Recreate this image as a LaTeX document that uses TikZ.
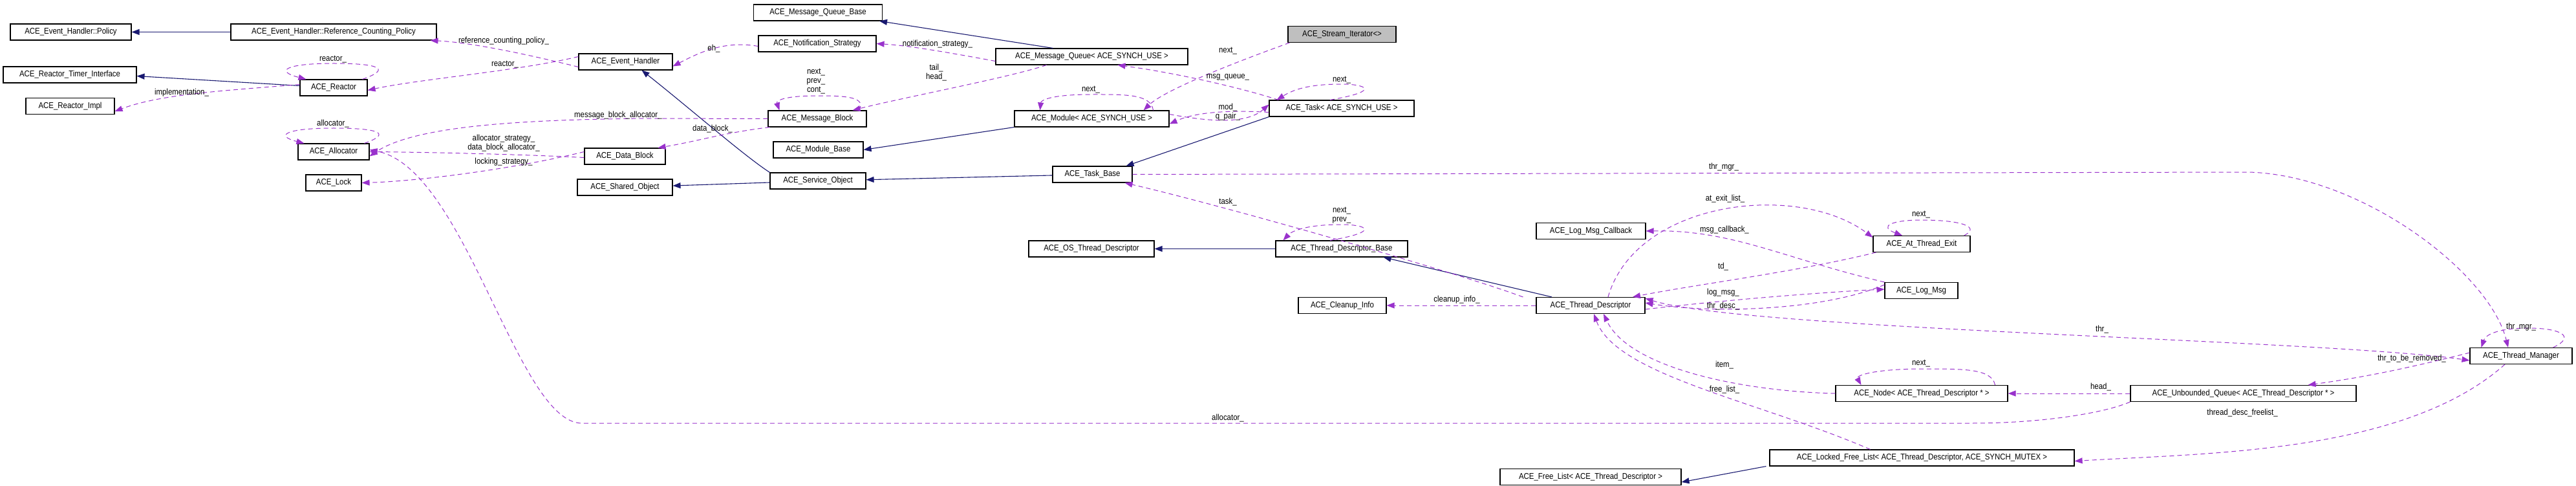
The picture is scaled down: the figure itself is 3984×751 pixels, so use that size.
\documentclass[tikz,border=0pt]{standalone}
\usepackage{fontspec}
\setmainfont{Liberation Sans}[FakeStretch=0.88]
\usetikzlibrary{arrows.meta}
\definecolor{use}{RGB}{153,50,204}
\definecolor{inh}{RGB}{25,25,112}
\begin{document}
\begin{tikzpicture}[x=1pt,y=-1pt,
  box/.style={draw,line width=1.1pt,minimum height=25pt,inner sep=1pt,font=\fontsize{13}{14}\selectfont},
  lab/.style={font=\fontsize{13}{14}\selectfont,inner sep=0pt,align=center},
  uses/.style={draw=use,line width=1pt,dash pattern=on 7pt off 5pt,-{Triangle[length=12pt,width=9pt]}},
  both/.style={draw=use,line width=1pt,dash pattern=on 7pt off 5pt,{Triangle[length=12pt,width=9pt]}-{Triangle[length=12pt,width=9pt]}},
  isa/.style={draw=inh,line width=1.1pt,-{Triangle[length=12pt,width=9pt]}}]
\useasboundingbox (0,0) rectangle (3984,751);
% nodes
\node[box,minimum width=187pt] (pol) at (109.5,49.5) {ACE\_Event\_Handler::Policy};
\node[box,minimum width=318pt] (rcp) at (516,49.5) {ACE\_Event\_Handler::Reference\_Counting\_Policy};
\node[box,minimum width=206pt] (rti) at (108,115.5) {ACE\_Reactor\_Timer\_Interface};
\node[box,minimum width=104pt] (rea) at (516,135.5) {ACE\_Reactor};
\node[box,minimum width=137pt] (rim) at (108.5,164) {ACE\_Reactor\_Impl};
\node[box,minimum width=110pt] (all) at (516,234.5) {ACE\_Allocator};
\node[box,minimum width=86pt] (lck) at (516,282.5) {ACE\_Lock};
\node[box,minimum width=145pt] (eh) at (967.5,95.5) {ACE\_Event\_Handler};
\node[box,minimum width=125pt] (db) at (966.5,241.5) {ACE\_Data\_Block};
\node[box,minimum width=147pt] (so) at (966.5,289.5) {ACE\_Shared\_Object};
\node[box,minimum width=199pt] (mqb) at (1265,19.5) {ACE\_Message\_Queue\_Base};
\node[box,minimum width=182pt] (ns) at (1264,67.5) {ACE\_Notification\_Strategy};
\node[box,minimum width=152pt] (mb) at (1264,183.5) {ACE\_Message\_Block};
\node[box,minimum width=139pt] (modb) at (1265.5,231.5) {ACE\_Module\_Base};
\node[box,minimum width=148pt] (svc) at (1265,279.5) {ACE\_Service\_Object};
\node[box,minimum width=297pt] (mq) at (1688.5,87.5) {ACE\_Message\_Queue< ACE\_SYNCH\_USE >};
\node[box,minimum width=239pt] (mod) at (1688.5,183.5) {ACE\_Module< ACE\_SYNCH\_USE >};
\node[box,minimum width=123pt] (tb) at (1689.5,269.5) {ACE\_Task\_Base};
\node[box,minimum width=194pt] (ostd) at (1688,384.5) {ACE\_OS\_Thread\_Descriptor};
\node[box,minimum width=167pt,fill=black!25] (si) at (2075.5,53) {ACE\_Stream\_Iterator<>};
\node[box,minimum width=224pt] (task) at (2075,167.5) {ACE\_Task< ACE\_SYNCH\_USE >};
\node[box,minimum width=204pt] (tdb) at (2075,384.5) {ACE\_Thread\_Descriptor\_Base};
\node[box,minimum width=136pt] (ci) at (2076,472) {ACE\_Cleanup\_Info};
\node[box,minimum width=280pt] (fl) at (2460,737) {ACE\_Free\_List< ACE\_Thread\_Descriptor >};
\node[box,minimum width=169pt] (lmc) at (2460.5,357) {ACE\_Log\_Msg\_Callback};
\node[box,minimum width=168pt] (td) at (2460,472) {ACE\_Thread\_Descriptor};
\node[box,minimum width=150pt] (ate) at (2972,377) {ACE\_At\_Thread\_Exit};
\node[box,minimum width=113pt] (lm) at (2971.5,449) {ACE\_Log\_Msg};
\node[box,minimum width=266pt] (nd) at (2972,608) {ACE\_Node< ACE\_Thread\_Descriptor * >};
\node[box,minimum width=471pt] (lfl) at (2972.5,707.5) {ACE\_Locked\_Free\_List< ACE\_Thread\_Descriptor, ACE\_SYNCH\_MUTEX >};
\node[box,minimum width=349pt] (uq) at (3469.5,608) {ACE\_Unbounded\_Queue< ACE\_Thread\_Descriptor * >};
\node[box,minimum width=158pt] (tm) at (3899,550) {ACE\_Thread\_Manager};
% inheritance
\draw[isa] (rcp) -- (pol);
\draw[isa] ([yshift=3pt]rea.west) -- ([yshift=-2pt]rti.east);
\draw[isa] (svc.north west) .. controls (1150,240) and (1070,170) .. ([xshift=25pt]eh.south);
\draw[isa] (svc) -- (so);
\draw[isa] ([xshift=-60pt]mq.north) -- ([xshift=-5pt]mqb.south east);
\draw[isa] (mod.south west) -- (modb.east);
\draw[isa] (tb) -- (svc);
\draw[isa] (task.south west) -- ([xshift=-10pt]tb.north east);
\draw[isa] ([xshift=-60pt]td.north) -- ([xshift=-38pt]tdb.south east);
\draw[isa] (tdb) -- (ostd);
\draw[isa] ([xshift=-5pt]lfl.south west) -- ([yshift=-8pt]fl.east);
% usage
\draw[uses] ([yshift=-8pt]eh.west) .. controls (800,80) and (720,65) .. ([xshift=-10pt]rcp.south east);
\draw[uses] ([yshift=8pt]eh.west) .. controls (800,110) and (650,122) .. ([yshift=-4pt]rea.east);
\draw[uses] ([xshift=-8pt]rea.north east) .. controls (610,105) and (580,98) .. (516,98) .. controls (440,98) and (425,110) .. ([xshift=10pt]rea.north west);
\draw[uses] ([yshift=5pt]rea.west) .. controls (350,140) and (250,145) .. ([yshift=-8pt]rim.east);
\draw[uses] ([xshift=-8pt]all.north east) .. controls (610,205) and (580,198) .. (516,198) .. controls (440,198) and (425,210) .. ([xshift=10pt]all.north west);
\draw[uses] (mb.west) -- (1000,183) .. controls (800,185) and (640,195) .. ([yshift=-7pt]all.east);
\draw[uses] ([yshift=-2pt]db.west) .. controls (800,238) and (640,235) .. (all.east);
\draw[uses] ([yshift=7pt]db.west) .. controls (800,260) and (650,280) .. (lck.east);
\draw[uses] (uq.south west) .. controls (3250,640) and (3150,654) .. (3050,654) -- (900,654) .. controls (800,654) and (720,260) .. ([yshift=3pt]all.east);
\draw[uses] ([yshift=-4pt]ns.west) .. controls (1120,62) and (1080,82) .. ([yshift=-7pt]eh.east);
\draw[uses] ([yshift=-7pt]mq.west) .. controls (1450,78) and (1400,70) .. (ns.east);
\draw[uses] ([xshift=-70pt]mq.south) .. controls (1560,120) and (1400,150) .. ([xshift=-22pt]mb.north east);
\draw[uses] ([xshift=-12pt]mb.north east) .. controls (1340,150) and (1310,148) .. (1264,148) .. controls (1215,148) and (1200,155) .. ([xshift=18pt]mb.north west);
\draw[uses] ([xshift=3pt]mb.south west) .. controls (1120,205) and (1080,218) .. ([xshift=-12pt]db.north east);
\draw[uses] ([xshift=-25pt]mod.north east) .. controls (1780,145) and (1740,146) .. (1688,146) .. controls (1625,146) and (1610,155) .. ([xshift=40pt]mod.north west);
\draw[uses] ([xshift=3pt]si.south west) .. controls (1900,100) and (1800,140) .. ([xshift=-40pt]mod.north east);
\draw[uses] ([xshift=15pt]task.north west) .. controls (1900,130) and (1800,110) .. ([xshift=40pt]mq.south);
\draw[uses] ([yshift=-6pt]task.west) .. controls (1900,170) and (1850,173) .. ([yshift=-8pt]mod.east);
\draw[uses] ([yshift=7pt]mod.east) .. controls (1880,190) and (1930,190) .. ([yshift=6pt]task.west);
\draw[uses] ([xshift=-18pt]task.north) .. controls (2140,140) and (2110,130) .. (2075,130) .. controls (2020,130) and (1998,140) .. ([xshift=12pt]task.north west);
\draw[uses] ([xshift=-18pt]tdb.north) .. controls (2140,357) and (2110,347) .. (2075,347) .. controls (2020,347) and (1998,357) .. ([xshift=12pt]tdb.north west);
\draw[uses] (tb.east) -- (3477,266) .. controls (3650,270) and (3850,420) .. ([xshift=-20pt]tm.north);
\draw[uses] ([xshift=-20pt]td.north west) .. controls (2250,420) and (1900,320) .. ([xshift=-12pt]tb.south east);
\draw[uses] (td.west) -- (ci.east);
\draw[uses] ([xshift=27pt]td.north) .. controls (2530,310) and (2780,280) .. ([yshift=-3pt]ate.north west);
\draw[uses] ([xshift=-10pt]ate.north east) .. controls (3065,350) and (3030,340) .. (2972,340) .. controls (2925,340) and (2905,350) .. ([xshift=-30pt]ate.north);
\draw[uses] ([xshift=5pt]ate.south west) .. controls (2780,420) and (2620,440) .. ([xshift=65pt]td.north);
\draw[uses] (lm.north west) .. controls (2760,400) and (2680,355) .. (lmc.east);
\draw[uses] ([yshift=-6pt]td.east) .. controls (2700,460) and (2850,450) .. ([yshift=2pt]lm.west);
\draw[uses] ([yshift=9pt]lm.west) .. controls (2820,480) and (2650,485) .. ([yshift=4pt]td.east);
\draw[both] ([yshift=11pt]td.east) .. controls (2700,510) and (3600,525) .. ([yshift=-7pt]tm.west);
\draw[uses] ([xshift=-30pt]tm.north east) .. controls (3985,520) and (3960,507) .. (3910,507) .. controls (3870,507) and (3845,515) .. ([xshift=18pt]tm.north west);
\draw[uses] (nd.west) .. controls (2700,605) and (2520,570) .. ([xshift=20pt]td.south);
\draw[uses] ([xshift=-80pt]lfl.north) .. controls (2720,620) and (2500,580) .. ([xshift=5pt]td.south);
\draw[uses] ([xshift=-20pt]nd.north east) .. controls (3080,570) and (3040,570) .. (2975,570) .. controls (2900,570) and (2870,580) .. ([xshift=40pt]nd.north west);
\draw[uses] (uq.west) -- (nd.east);
\draw[uses] ([yshift=5pt]tm.west) .. controls (3700,575) and (3640,585) .. ([xshift=100pt]uq.north);
\draw[uses] ([xshift=-25pt]tm.south) .. controls (3720,700) and (3420,700) .. ([yshift=-5pt]lfl.east);
% labels
\node[lab] (a1) at (779,63) {reference\_counting\_policy\_};
\node[lab] (a2) at (781,100) {reactor\_};
\node[lab] (a3) at (515,92) {reactor\_};
\node[lab] (a4) at (281,143) {implementation\_};
\node[lab] (a5) at (515,191) {allocator\_};
\node[lab,anchor=west] (a6) at (888,178) {message\_block\_allocator\_};
\node[lab] (a7) at (779,221) {allocator\_strategy\_\\data\_block\_allocator\_};
\node[lab] (a8) at (779,250) {locking\_strategy\_};
\node[lab] (a9) at (1104,75) {eh\_};
\node[lab] (a10) at (1450,68) {notification\_strategy\_};
\node[lab] (a11) at (1448,112) {tail\_\\head\_};
\node[lab] (a12) at (1262,126) {next\_\\prev\_\\cont\_};
\node[lab] (a13) at (1687,139) {next\_};
\node[lab] (a14) at (1899,79) {next\_};
\node[lab] (a15) at (1899,119) {msg\_queue\_};
\node[lab] (a16) at (1899,173) {mod\_\\q\_pair\_};
\node[lab] (a17) at (1102,199) {data\_block\_};
\node[lab] (a18) at (1899,312) {task\_};
\node[lab] (a19) at (2075,124) {next\_};
\node[lab] (a20) at (2666,258) {thr\_mgr\_};
\node[lab] (a21) at (2075,333) {next\_\\prev\_};
\node[lab] (a22) at (2668,307) {at\_exit\_list\_};
\node[lab] (a23) at (2667,355) {msg\_callback\_};
\node[lab] (a24) at (2971,332) {next\_};
\node[lab] (a25) at (1899,646) {allocator\_};
\node[lab] (a26) at (2253,463) {cleanup\_info\_};
\node[lab] (a27) at (2665,412) {td\_};
\node[lab] (a28) at (2665,452) {log\_msg\_};
\node[lab] (a29) at (2665,473) {thr\_desc\_};
\node[lab] (a30) at (3251,509) {thr\_};
\node[lab] (a31) at (3899,505) {thr\_mgr\_};
\node[lab] (a32) at (3730,554) {thr\_to\_be\_removed\_};
\node[lab] (a33) at (2667,564) {item\_};
\node[lab] (a34) at (2971,562) {next\_};
\node[lab] (a35) at (3249,598) {head\_};
\node[lab] (a36) at (2667,602) {free\_list\_};
\node[lab] (a37) at (3468,638) {thread\_desc\_freelist\_};
\end{tikzpicture}
\end{document}
